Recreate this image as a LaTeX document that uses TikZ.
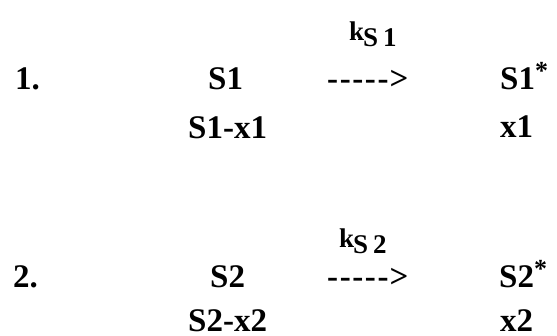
\documentclass[tikz,border=0pt]{standalone}
\usepackage{fontspec}
\setmainfont{Liberation Serif}
\begin{document}
\begin{tikzpicture}[x=1pt,y=1pt,
  txt/.style={inner sep=0pt, anchor=base west, font=\bfseries\fontsize{33}{33}\selectfont},
  rate/.style={inner sep=0pt, anchor=base west, font=\bfseries\fontsize{27}{27}\selectfont}]
  \useasboundingbox (0,0) rectangle (557,-335);
  % rate constants: k with a lowered S-index
  \newcommand{\rateconst}[1]{k\hspace{-1pt}\raisebox{-6pt}{S\hspace{5pt}#1}}
  % reaction arrow typed as dashes and a closing angle
  \newcommand{\dasharrow}{-\kern1.6pt-\kern1.6pt-\kern1.6pt-\kern1.6pt-\kern1pt>}
  \newcommand{\starred}[1]{#1\raisebox{10pt}{\fontsize{26}{26}\selectfont *}}
  % reaction 1
  \node[rate] (k1)  at (349,-40)  {\rateconst{1}};
  \node[txt]  (n1)  at (15,-89)   {1.};
  \node[txt]  (a1)  at (208,-89)  {S1};
  \node[txt]  (r1)  at (327,-89)  {\dasharrow};
  \node[txt]  (p1)  at (500,-89)  {\starred{S1}};
  \node[txt]  (a1b) at (188,-138) {S1-x1};
  \node[txt]  (p1b) at (500,-137) {x1};
  % reaction 2
  \node[rate] (k2)  at (339,-247) {\rateconst{2}};
  \node[txt]  (n2)  at (13,-287)  {2.};
  \node[txt]  (a2)  at (210,-287) {S2};
  \node[txt]  (r2)  at (327,-287) {\dasharrow};
  \node[txt]  (p2)  at (499,-287) {\starred{S2}};
  \node[txt]  (a2b) at (188,-331) {S2-x2};
  \node[txt]  (p2b) at (500,-331) {x2};
\end{tikzpicture}
\end{document}
